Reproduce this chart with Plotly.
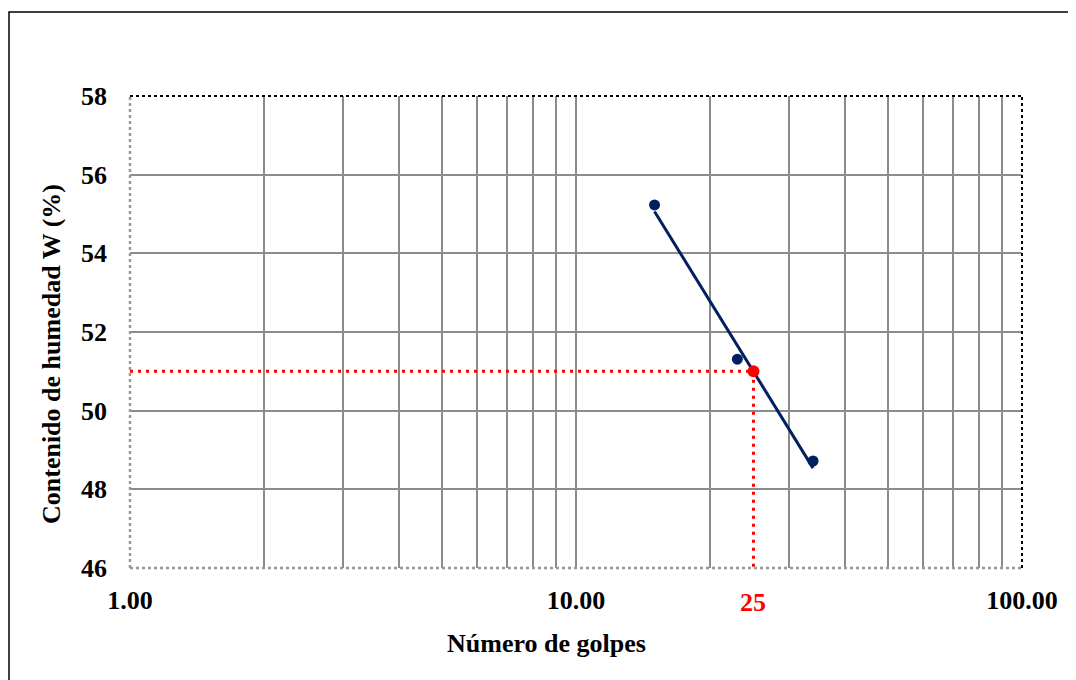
import numpy as np
import plotly.graph_objects as go

# Data
golpes = [15.0, 23.0, 34.0]
humedad = [55.23, 51.31, 48.72]
golpes_ref = 25
humedad_ref = 51.0
y_ticks = [46, 48, 50, 52, 54, 56, 58]
x_decades = [1, 10, 100]
x_decade_labels = ["1.00", "10.00", "100.00"]
x_title = "Número de golpes"
y_title = "Contenido de humedad W (%)"

NAVY = "#002060"
RED = "#FF0000"
GRID = "#8C8C8C"
FONT = "Times New Roman, Liberation Serif, serif"
FS = 26

# regression on log scale (trend line)
lx = np.log10(golpes)
m, b = np.polyfit(lx, humedad, 1)
xt = np.array([min(golpes), max(golpes)])
yt = m * np.log10(xt) + b

# grid positions
grid_x = sorted(set([d * k for d in [1, 10] for k in range(1, 10)] + [100]))
grid_text = [x_decade_labels[x_decades.index(v)] if v in x_decades else "" for v in grid_x]

fig = go.Figure()
fig.add_trace(go.Scatter(x=[x_decades[0], golpes_ref, golpes_ref],
                         y=[humedad_ref, humedad_ref, y_ticks[0]],
                         mode="lines", line=dict(color=RED, width=3, dash="3px,5px"),
                         hoverinfo="skip", showlegend=False))
fig.add_trace(go.Scatter(x=xt, y=yt, mode="lines",
                         line=dict(color=NAVY, width=3), showlegend=False))
fig.add_trace(go.Scatter(x=golpes, y=humedad, mode="markers",
                         marker=dict(color=NAVY, size=11), showlegend=False))
fig.add_trace(go.Scatter(x=[golpes_ref], y=[humedad_ref], mode="markers",
                         marker=dict(color=RED, size=12), showlegend=False))

OFF = 8  # page body offset
W, H = 1076, 680
L, T = 130 - OFF, 96 - OFF
pw, ph = 892, 472
R = W - L - pw
B = H - T - ph

fig.update_layout(
    width=W, height=H,
    margin=dict(l=L, r=R, t=T, b=B),
    paper_bgcolor="white", plot_bgcolor="white",
    font=dict(family=FONT, size=FS, color="black"),
    xaxis=dict(type="log", range=[0, 2], tickvals=grid_x, ticktext=grid_text,
               showgrid=True, gridcolor=GRID, gridwidth=1.5, zeroline=False,
               showline=False, ticks="", ticklabelstandoff=14,
               tickfont=dict(family=FONT, size=FS, color="black", weight="bold")),
    yaxis=dict(range=[46, 58], tickvals=y_ticks, showgrid=True, gridcolor=GRID,
               gridwidth=1.5, zeroline=False, showline=False, ticks="",
               ticklabelstandoff=22,
               tickfont=dict(family=FONT, size=FS, color="black", weight="bold")),
)

# plot-area border (dotted)
fig.add_shape(type="line", xref="paper", yref="paper", x0=0, x1=1, y0=1, y1=1,
              line=dict(color="black", width=2, dash="dot"))
fig.add_shape(type="line", xref="paper", yref="paper", x0=1, x1=1, y0=0, y1=1,
              line=dict(color="black", width=2, dash="dot"))
fig.add_shape(type="line", xref="paper", yref="paper", x0=0, x1=1, y0=0, y1=0,
              line=dict(color="#999999", width=2.5, dash="dot"))
fig.add_shape(type="line", xref="paper", yref="paper", x0=0, x1=0, y0=0, y1=1,
              line=dict(color="#999999", width=2.5, dash="dot"))

# outer chart border (extends beyond the image on right/bottom)
fig.add_shape(type="rect", xref="paper", yref="paper",
              x0=(9 - OFF - L) / pw, x1=(W + 20 - L) / pw,
              y0=-(B + 20) / ph, y1=(H - (12 - OFF) - B) / ph,
              line=dict(color="black", width=1.5), layer="below")

# axis titles (positioned as in the reference)
fig.add_annotation(x=(546 - 130) / pw, y=-(643 - 568) / ph, xref="paper", yref="paper",
                   xanchor="center", yanchor="middle", text="<b>" + x_title + "</b>",
                   showarrow=False, font=dict(family=FONT, size=FS))
fig.add_annotation(x=(51 - 130) / pw, y=(568 - 354) / ph, xref="paper", yref="paper",
                   xanchor="center", yanchor="middle", textangle=-90,
                   text="<b>" + y_title + "</b>",
                   showarrow=False, font=dict(family=FONT, size=FS))

# red label for 25
fig.add_annotation(x=np.log10(golpes_ref), y=0, xref="x", yref="paper",
                   yshift=-51, text="<b>25</b>", showarrow=False,
                   font=dict(family=FONT, size=FS, color=RED))

fig.write_html("out.html")
